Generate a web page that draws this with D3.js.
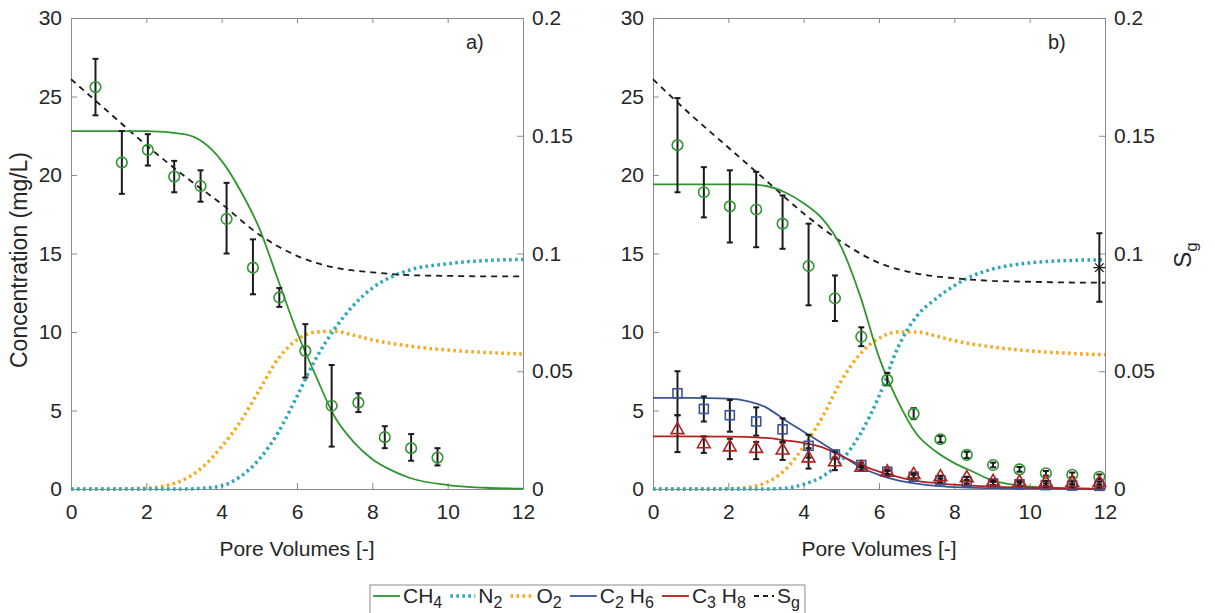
<!DOCTYPE html>
<html>
<head>
<meta charset="utf-8">
<script src="https://cdn.jsdelivr.net/npm/d3@7"></script>
<style>
  body { margin: 0; background: #fff; }
  text { font-family: "Liberation Sans", Arial, sans-serif; fill: #262626; }
</style>
</head>
<body>
<script>
// pore volumes of the samples (shared by both columns)
var poreVol = [0.65, 1.35, 2.04, 2.74, 3.44, 4.13, 4.83, 5.53, 6.22, 6.92, 7.63, 8.33, 9.03, 9.73, 10.43, 11.13, 11.85];

// column a) measured CH4 with error bar ends
var ch4A = [25.6, 20.8, 21.6, 19.9, 19.3, 17.2, 14.1, 12.2, 8.8, 5.3, 5.5, 3.3, 2.6, 2.0];
var ch4ALo = [23.8, 18.8, 20.6, 18.9, 18.3, 15.0, 12.4, 11.6, 7.1, 2.7, 4.9, 2.6, 1.8, 1.5];
var ch4AHi = [27.4, 22.8, 22.6, 20.9, 20.3, 19.5, 15.9, 12.8, 10.5, 7.9, 6.1, 4.0, 3.5, 2.6];

// column b) measured values
var ch4B = [21.9, 18.9, 18.0, 17.8, 16.9, 14.2, 12.15, 9.7, 6.95, 4.8, 3.17, 2.17, 1.53, 1.25, 1.0, 0.9, 0.78];
var ch4BLo = [18.9, 17.3, 15.7, 15.4, 15.3, 11.7, 10.7, 9.1, 6.6, 4.45, 2.97, 1.97, 1.38, 1.1, 0.85, 0.75, 0.63];
var ch4BHi = [24.9, 20.5, 20.3, 20.2, 18.7, 16.9, 13.6, 10.3, 7.4, 5.15, 3.37, 2.37, 1.68, 1.4, 1.15, 1.05, 0.93];
var c2h6B = [6.1, 5.1, 4.7, 4.3, 3.8, 2.75, 2.2, 1.53, 1.1, 0.78, 0.55, 0.45, 0.35, 0.3, 0.25, 0.22, 0.2];
var c2h6BLo = [4.7, 4.3, 3.65, 3.4, 3.0, 2.0, 2.0, 1.38, 0.95, 0.65, 0.42, 0.33, 0.25, 0.2, 0.15, 0.12, 0.1];
var c2h6BHi = [7.5, 5.9, 5.67, 5.2, 4.5, 3.45, 2.4, 1.68, 1.25, 0.9, 0.68, 0.57, 0.45, 0.4, 0.35, 0.32, 0.3];
var c3h8B = [3.7, 2.8, 2.6, 2.5, 2.4, 1.9, 1.65, 1.3, 1.0, 0.85, 0.7, 0.64, 0.4, 0.36, 0.35, 0.33, 0.33];
var c3h8BLo = [2.35, 2.3, 1.9, 1.9, 1.85, 1.3, 1.2, 1.15, 0.85, 0.7, 0.55, 0.5, 0.25, 0.22, 0.2, 0.18, 0.18];
var c3h8BHi = [4.7, 3.35, 3.2, 3.0, 2.95, 2.6, 1.95, 1.45, 1.15, 1.0, 0.85, 0.78, 0.55, 0.5, 0.5, 0.48, 0.48];
var sgMeasX = [11.85];
var sgMeas = [0.094];
var sgMeasLo = [0.0795];
var sgMeasHi = [0.1086];

// model curves, column a)
var ch4AX = [0, 1, 2, 3, 3.5, 4, 4.5, 5, 5.5, 6, 6.5, 7, 7.5, 8, 8.5, 9, 10, 11, 12];
var ch4AY = [22.8, 22.8, 22.8, 22.6, 22.1, 20.9, 19.0, 16.6, 13.3, 10.0, 7.2, 4.6, 3.0, 1.9, 1.2, 0.7, 0.25, 0.08, 0.02];
var n2X = [0, 3, 3.5, 4, 4.5, 5, 5.5, 6, 6.5, 7, 7.5, 8, 8.5, 9, 10, 11, 12];
var n2AY = [0, 0, 0.05, 0.2, 0.8, 1.9, 3.6, 5.9, 8.3, 10.2, 11.7, 12.8, 13.5, 13.95, 14.35, 14.55, 14.62];
var o2X = [0, 1, 2, 2.5, 3, 3.5, 4, 4.5, 5, 5.5, 6, 6.5, 7, 7.5, 8, 9, 10, 11, 12];
var o2AY = [0, 0, 0.05, 0.2, 0.6, 1.4, 2.7, 4.3, 6.3, 8.3, 9.5, 10.0, 10.05, 9.8, 9.5, 9.1, 8.85, 8.7, 8.6];
var sgX = [0, 1, 2, 3, 4, 5, 6, 7, 8, 9, 10, 11, 12];
var sgAY = [0.174, 0.160, 0.146, 0.133, 0.121, 0.108, 0.099, 0.094, 0.092, 0.0908, 0.0905, 0.0903, 0.0903];

// model curves, column b)
var ch4BX = [0, 1, 2, 2.5, 3, 3.5, 4, 4.5, 5, 5.5, 6, 6.5, 7, 7.5, 8, 8.5, 9, 9.5, 10, 11, 12];
var ch4BY = [19.4, 19.4, 19.4, 19.4, 19.3, 18.9, 18.2, 17.2, 15.4, 12.3, 8.4, 5.6, 3.5, 2.4, 1.65, 1.1, 0.55, 0.3, 0.15, 0.04, 0.01];
var n2BY = [0, 0, 0.05, 0.3, 0.8, 1.8, 3.5, 5.9, 9.0, 11.0, 12.1, 12.95, 13.6, 14.0, 14.4, 14.55, 14.6];
var o2BY = [0, 0, 0.02, 0.1, 0.4, 1.2, 2.7, 4.6, 6.9, 8.6, 9.6, 10.0, 10.0, 9.75, 9.45, 9.05, 8.8, 8.65, 8.55];
var c2h6X = [0, 1, 2, 2.5, 3, 3.5, 4, 4.5, 5, 5.5, 6, 6.5, 7, 7.5, 8, 9, 10, 12];
var c2h6Y = [5.8, 5.8, 5.75, 5.6, 5.2, 4.4, 3.65, 2.9, 2.15, 1.4, 0.9, 0.55, 0.34, 0.2, 0.12, 0.05, 0.02, 0];
var c3h8X = [0, 2, 3, 3.5, 4, 4.5, 5, 5.5, 6, 6.5, 7, 7.5, 8, 9, 10, 11, 12];
var c3h8Y = [3.35, 3.34, 3.25, 3.1, 2.93, 2.65, 2.1, 1.55, 1.1, 0.78, 0.52, 0.38, 0.28, 0.15, 0.08, 0.04, 0.02];
var sgBY = [0.174, 0.159, 0.145, 0.131, 0.117, 0.105, 0.096, 0.0915, 0.0895, 0.0884, 0.088, 0.0877, 0.0876];

var xTicks = [0, 2, 4, 6, 8, 10, 12];
var yTicks = [0, 5, 10, 15, 20, 25, 30];
var sgTicks = [0, 0.05, 0.1, 0.15, 0.2];

var green = "#2f962f", teal = "#2aa6b8", orange = "#f7a81e", navy = "#3c5496", red = "#b3201e";

var W = 1215, H = 613;
var svg = d3.select("body").append("svg").attr("width", W).attr("height", H);

var top_ = 18, bottom_ = 489;

function zip(xs, ys) { return xs.map(function (x, i) { return [x, ys[i]]; }); }

function panel(left, right, label, opts) {
    var x = d3.scaleLinear().domain([0, 12]).range([left, right]);
    var y = d3.scaleLinear().domain([0, 30]).range([bottom_, top_]);
    var y2 = d3.scaleLinear().domain([0, 0.2]).range([bottom_, top_]);
    var g = svg.append("g");

    // axes (box on, ticks inward)
    var ax = g.append("g").attr("transform", "translate(0," + bottom_ + ")")
        .call(d3.axisBottom(x).tickValues(xTicks).tickSize(-6).tickPadding(12));
    var axTop = g.append("g").attr("transform", "translate(0," + top_ + ")")
        .call(d3.axisTop(x).tickValues(xTicks).tickSize(-5).tickFormat(""));
    var ay = g.append("g").attr("transform", "translate(" + left + ",0)")
        .call(d3.axisLeft(y).tickValues(yTicks).tickSize(-6).tickPadding(9));
    var ay2 = g.append("g").attr("transform", "translate(" + right + ",0)")
        .call(d3.axisRight(y2).tickValues(sgTicks).tickSize(-6).tickPadding(9).tickFormat(function (d) { return d3.format("")(+d.toFixed(2)); }));
    [ax, axTop, ay, ay2].forEach(function (a) {
        a.select(".domain").attr("stroke", "#8a8a8a");
        a.selectAll(".tick line").attr("stroke", "#8a8a8a");
        a.selectAll("text").style("font-size", "21px").attr("fill", "#262626")
            .style("font-family", "'Liberation Sans', Arial, sans-serif");
    });
    ax.selectAll("text").attr("dy", "0.85em");

    g.append("text").attr("x", (left + right) / 2).attr("y", 556).attr("text-anchor", "middle")
        .style("font-size", "21px").text("Pore Volumes [-]");
    g.append("text").attr("x", right - 57).attr("y", 49).attr("text-anchor", "start")
        .style("font-size", "20px").text(label);

    var line = function (sx) {
        return d3.line().x(function (d) { return x(d[0]); }).y(function (d) { return sx(d[1]); })
            .curve(d3.curveMonotoneX);
    };
    var curves = g.append("g").attr("fill", "none");
    opts.curves.forEach(function (c) {
        curves.append("path")
            .attr("d", line(c.sg ? y2 : y)(zip(c.x, c.y)))
            .attr("stroke", c.color)
            .attr("stroke-width", c.w)
            .attr("stroke-dasharray", c.dash || null);
    });

    // error bars + markers
    opts.points.forEach(function (p) {
        var sc = p.sg ? y2 : y;
        var px = p.x || poreVol;
        var data = p.v.map(function (v, i) { return { x: px[i], v: v, lo: p.lo[i], hi: p.hi[i] }; });
        var eb = g.append("g").attr("stroke", "#1a1a1a").attr("stroke-width", 2);
        data.forEach(function (d) {
            var cx = x(d.x);
            eb.append("line").attr("x1", cx).attr("x2", cx).attr("y1", sc(d.lo)).attr("y2", sc(d.hi));
            eb.append("line").attr("x1", cx - 3).attr("x2", cx + 3).attr("y1", sc(d.lo)).attr("y2", sc(d.lo));
            eb.append("line").attr("x1", cx - 3).attr("x2", cx + 3).attr("y1", sc(d.hi)).attr("y2", sc(d.hi));
        });
        var mk = g.append("g").attr("fill", "none").attr("stroke", p.color).attr("stroke-width", 1.6);
        data.forEach(function (d) {
            var cx = x(d.x), cy = sc(d.v);
            if (p.shape === "circle") {
                mk.append("circle").attr("cx", cx).attr("cy", cy).attr("r", 5.3);
            } else if (p.shape === "square") {
                mk.append("rect").attr("x", cx - 4.5).attr("y", cy - 4.5).attr("width", 9).attr("height", 9);
            } else if (p.shape === "triangle") {
                mk.append("path").attr("d", d3.symbol().type(d3.symbolTriangle).size(70)())
                    .attr("transform", "translate(" + cx + "," + (cy - 1) + ")");
            } else if (p.shape === "star") {
                // asterisk: four strokes through the centre
                [0, 45, 90, 135].forEach(function (a) {
                    var r = 6, t = a * Math.PI / 180;
                    mk.append("line")
                        .attr("x1", cx - r * Math.cos(t)).attr("y1", cy - r * Math.sin(t))
                        .attr("x2", cx + r * Math.cos(t)).attr("y2", cy + r * Math.sin(t))
                        .attr("stroke-width", 1.3);
                });
            }
        });
    });
}

panel(71, 523, "a)", {
    curves: [
        { x: o2X, y: o2AY, color: orange, w: 3.5, dash: "2.6,3.4" },
        { x: n2X, y: n2AY, color: teal, w: 3.5, dash: "2.6,3.4" },
        { x: sgX, y: sgAY, color: "#1a1a1a", w: 1.8, dash: "6,5", sg: true },
        { x: ch4AX, y: ch4AY, color: green, w: 1.8 }
    ],
    points: [
        { v: ch4A, lo: ch4ALo, hi: ch4AHi, color: green, shape: "circle" }
    ]
});

panel(653, 1105, "b)", {
    curves: [
        { x: o2X, y: o2BY, color: orange, w: 3.5, dash: "2.6,3.4" },
        { x: n2X, y: n2BY, color: teal, w: 3.5, dash: "2.6,3.4" },
        { x: sgX, y: sgBY, color: "#1a1a1a", w: 1.8, dash: "6,5", sg: true },
        { x: ch4BX, y: ch4BY, color: green, w: 1.8 },
        { x: c2h6X, y: c2h6Y, color: navy, w: 1.8 },
        { x: c3h8X, y: c3h8Y, color: red, w: 1.8 }
    ],
    points: [
        { v: ch4B, lo: ch4BLo, hi: ch4BHi, color: green, shape: "circle" },
        { v: c2h6B, lo: c2h6BLo, hi: c2h6BHi, color: navy, shape: "square" },
        { v: c3h8B, lo: c3h8BLo, hi: c3h8BHi, color: red, shape: "triangle" },
        { x: sgMeasX, v: sgMeas, lo: sgMeasLo, hi: sgMeasHi, color: "#1a1a1a", shape: "star", sg: true }
    ]
});

// y titles
svg.append("text").attr("transform", "translate(27,260) rotate(-90)").attr("text-anchor", "middle")
    .style("font-size", "23px").text("Concentration (mg/L)");
var sgT = svg.append("text").attr("transform", "translate(1191,255) rotate(-90)").attr("text-anchor", "middle")
    .style("font-size", "24px");
sgT.append("tspan").text("S");
sgT.append("tspan").attr("dy", 6).style("font-size", "17px").text("g");

// legend
var legItems = [
    { name: "CH", sub: "4", color: green, w: 1.8, dash: null, len: 27 },
    { name: "N", sub: "2", color: teal, w: 3.5, dash: "2.6,3.4", len: 25 },
    { name: "O", sub: "2", color: orange, w: 3.5, dash: "2.6,3.4", len: 23 },
    { name: "C", sub: "2", name2: " H", sub2: "6", color: navy, w: 1.8, dash: null, len: 27 },
    { name: "C", sub: "3", name2: " H", sub2: "8", color: red, w: 1.8, dash: null, len: 27 },
    { name: "S", sub: "g", color: "#1a1a1a", w: 1.8, dash: "5,4", len: 20 }
];
var leg = svg.append("g");
var box = leg.append("rect").attr("x", 370).attr("y", 585).attr("height", 40)
    .attr("fill", "#fff").attr("stroke", "#8a8a8a");
var lx = 373, ly = 596;
legItems.forEach(function (it) {
    leg.append("line").attr("x1", lx).attr("x2", lx + it.len).attr("y1", ly).attr("y2", ly)
        .attr("stroke", it.color).attr("stroke-width", it.w).attr("stroke-dasharray", it.dash);
    lx += it.len + 3;
    var t = leg.append("text").attr("x", lx).attr("y", ly + 7).style("font-size", "21px");
    t.append("tspan").text(it.name);
    t.append("tspan").attr("dy", 5).style("font-size", "16px").text(it.sub);
    if (it.name2) {
        t.append("tspan").attr("dy", -5).text(it.name2);
        t.append("tspan").attr("dy", 5).style("font-size", "16px").text(it.sub2);
    }
    lx += t.node().getBBox().width + 8;
});
box.attr("width", lx - 370 - 3);
</script>
</body>
</html>
